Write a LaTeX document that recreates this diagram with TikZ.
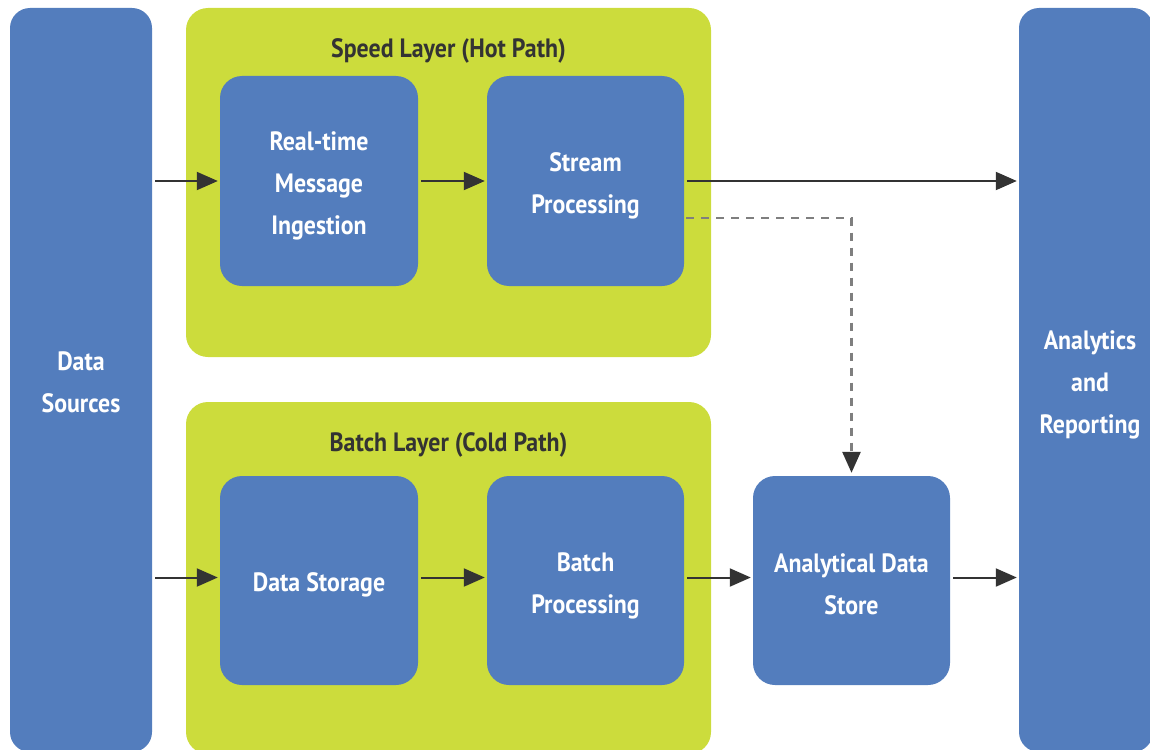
\documentclass[tikz,border=0pt]{standalone}
\usepackage{fontspec}
\setmainfont{PT Sans}
\newfontfamily\labelfont[FakeStretch=0.9]{PT Sans}
\usetikzlibrary{arrows.meta,calc}
\definecolor{boxblue}{HTML}{537DBD}
\definecolor{layergreen}{HTML}{CCDC3C}
\definecolor{arrowgray}{HTML}{333333}
\definecolor{dashgray}{HTML}{7F7F7F}
\tikzset{
  bluebox/.style={fill=boxblue, draw=none, rounded corners=22pt, inner sep=0pt},
  boxtext/.style={text=white, align=center, inner sep=0pt,
    font=\labelfont\bfseries\fontsize{26.5}{42}\selectfont},
  layer/.style={fill=layergreen, draw=none, rounded corners=22pt, inner sep=0pt},
  layertitle/.style={text=arrowgray, inner sep=0pt,
    font=\labelfont\bfseries\fontsize{26.5}{30}\selectfont},
  flow/.style={draw=arrowgray, line width=2pt,
    -{Triangle[length=21pt,width=18pt]}, shorten <=3pt, shorten >=2pt},
  dflow/.style={draw=dashgray, line width=2.6pt, dash pattern=on 8pt off 7pt,
    -{Triangle[length=21pt,width=18pt,color=arrowgray]}, shorten >=3pt}
}
\begin{document}
\begin{tikzpicture}[x=1pt,y=-1pt]
  \path[use as bounding box] (0,0) rectangle (1150,749);

  % outer columns
  \node[bluebox, minimum width=142pt, minimum height=744pt, rounded corners=20pt]
    (ds) at (81,380) {};
  \node[boxtext] (dsT) at (81,382) {Data\\Sources};
  \node[bluebox, minimum width=134pt, minimum height=744pt, rounded corners=20pt]
    (ar) at (1086,380) {};
  \node[boxtext] (arT) at (1090,385) {Analytics\\and\\Reporting};

  % layers
  \node[layer, minimum width=525pt, minimum height=349pt] (speed) at (448.5,182.5) {};
  \node[layertitle] (speedT) at (448.5,51) {Speed Layer (Hot Path)};
  \node[layer, minimum width=525pt, minimum height=352pt] (batchl) at (448.5,578) {};
  \node[layertitle] (batchT) at (448.5,445) {Batch Layer (Cold Path)};

  % processing boxes
  \node[bluebox, minimum width=198pt, minimum height=210pt] (rt) at (319,181) {};
  \node[boxtext] (rtT) at (319,186) {Real-time\\Message\\Ingestion};
  \node[bluebox, minimum width=197pt, minimum height=210pt] (sp) at (585.5,181) {};
  \node[boxtext] (spT) at (585.5,186) {Stream\\Processing};
  \node[bluebox, minimum width=198pt, minimum height=209pt] (st) at (319,580.5) {};
  \node[boxtext] (stT) at (319,585) {Data Storage};
  \node[bluebox, minimum width=197pt, minimum height=209pt] (bp) at (585.5,580.5) {};
  \node[boxtext] (bpT) at (585.5,586) {Batch\\Processing};
  \node[bluebox, minimum width=197pt, minimum height=209pt] (ads) at (851.5,580.5) {};
  \node[boxtext] (adsT) at (851.5,584) {Analytical Data\\Store};

  % connectors
  \draw[flow] (ds.east |- rt.west) -- (rt.west);
  \draw[flow] (rt.east) -- (sp.west);
  \draw[flow] (sp.east) -- (ar.west |- sp.east);
  \coordinate (hot) at (686,218);
  \draw[dflow] (hot) -| (ads.north);
  \coordinate (cold) at (152,577.5);
  \draw[flow] (cold) -- (st.west |- cold);
  \draw[flow] (st.east |- cold) -- (bp.west |- cold);
  \draw[flow] (bp.east |- cold) -- (ads.west |- cold);
  \draw[flow] (ads.east |- cold) -- (ar.west |- cold);
\end{tikzpicture}
\end{document}
